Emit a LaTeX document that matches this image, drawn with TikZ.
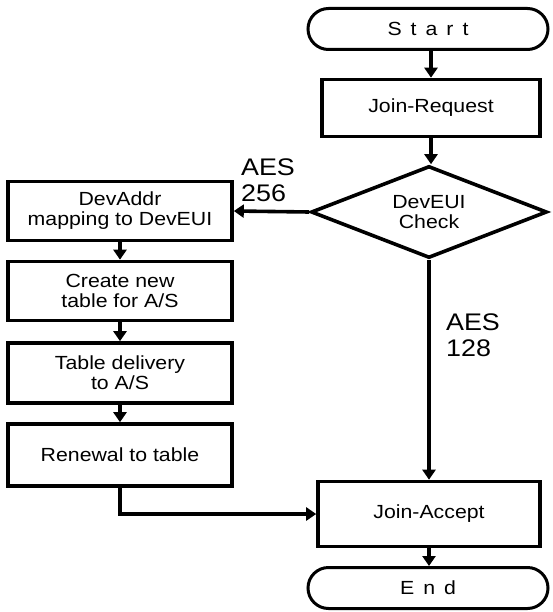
\documentclass[tikz,border=0pt]{standalone}
\usepackage{fontspec}
\setmainfont{Liberation Sans}[FakeStretch=1.12]
\usetikzlibrary{shapes.geometric,shapes.misc,arrows.meta}
\begin{document}
\begin{tikzpicture}[x=1pt,y=-1pt,
  txt/.style={font=\fontsize{19}{20}\selectfont},
  box/.style={draw,line width=3.6pt,minimum width=222pt,minimum height=58pt,align=center,inner sep=0pt,txt},
  term/.style={draw,line width=3pt,rounded rectangle,minimum width=240pt,minimum height=41pt,inner sep=0pt,txt},
  dec/.style={draw,line width=3.6pt,diamond,aspect=2.5,minimum width=236pt,minimum height=92pt,inner sep=0pt,align=center,txt},
  lab/.style={align=left,font=\fontsize{24}{26}\selectfont,inner sep=0pt},
  arr/.style={line width=3.6pt,-{Triangle[length=10pt,width=13pt]}}]
\useasboundingbox (0,0) rectangle (552,612);
\node[term] (start) at (428,29) {S\hspace{9pt}t\hspace{9pt}a\hspace{9pt}r\hspace{9pt}t};
\node[box,minimum width=218pt,minimum height=57pt] (req) at (431,108) {Join-Request};
\node[dec] (chk) at (429,212) {DevEUI\\Check};
\node[box,minimum width=224pt,minimum height=59pt] (map) at (120,211) {DevAddr\\mapping to DevEUI};
\node[box,minimum width=224pt,minimum height=59pt] (new) at (120,291) {Create new\\table for A/S};
\node[box,minimum width=224pt,minimum height=60pt] (del) at (120,373) {Table delivery\\to A/S};
\node[box,minimum width=224pt,minimum height=62pt] (ren) at (120,455) {Renewal to table};
\node[box,minimum width=222pt,minimum height=65pt] (acc) at (429,514) {Join-Accept};
\node[term] (end) at (428,588) {E\hspace{9pt}n\hspace{9pt}d};
\node[lab] (l256) at (268,180) {AES\\256};
\node[lab] (l128) at (473,335) {AES\\128};
\draw[arr] (start.south -| req.north) -- (req.north);
\draw[arr] (req.south) -- (req.south |- chk.north);
\draw[arr] (chk.west) -- (map.east);
\draw[arr] (map) -- (new);
\draw[arr] (new) -- (del);
\draw[arr] (del) -- (ren);
\draw[arr] (chk.south) -- (chk.south |- acc.north);
\draw[arr] (ren.south) |- (acc.west);
\draw[arr] (acc.south) -- (acc.south |- end.north);
\end{tikzpicture}
\end{document}
